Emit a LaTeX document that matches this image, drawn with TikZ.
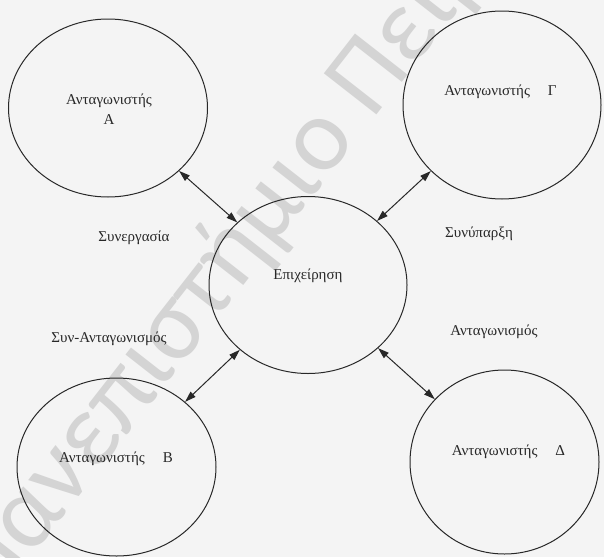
\documentclass[tikz,border=0pt]{standalone}
\usepackage{fontspec}
\setmainfont{Liberation Serif}
\newfontfamily\markfont{Carlito}
\usetikzlibrary{shapes.geometric,arrows.meta}
\definecolor{paper}{RGB}{244,244,244}
\definecolor{ink}{RGB}{40,40,40}
\definecolor{markgray}{RGB}{212,212,212}

\begin{document}
\begin{tikzpicture}[x=1pt,y=-1pt,
  party/.style={draw=ink, line width=1pt, ellipse, inner sep=0pt},
  lbl/.style={text=ink, font=\fontsize{15}{19.5}\selectfont, inner sep=0pt, align=center},
  link/.style={draw=ink, line width=1pt, {Triangle[length=11pt,width=7pt]}-{Triangle[length=11pt,width=7pt]}}]
\fill[paper] (0,0) rectangle (604,557);
\useasboundingbox (0,0) rectangle (604,557);

% faint diagonal watermark behind the diagram
\begin{scope}
  \clip (0,0) rectangle (604,557);
  \node[rotate=52, anchor=base west, inner sep=0pt, text=markgray,
        font=\markfont\fontsize{104}{104}\selectfont] (mark) at (-9,609) {Πανεπιστήμιο Πειραιώς};
\end{scope}

% the firm and its four competitors
\node[party, minimum width=199pt, minimum height=178pt] (A) at (108,108) {};
\node[party, minimum width=198pt, minimum height=188pt] (G) at (502,105) {};
\node[party, minimum width=198pt, minimum height=177pt] (E) at (308,285) {};
\node[party, minimum width=199pt, minimum height=178pt] (B) at (116.5,467) {};
\node[party, minimum width=189pt, minimum height=184pt] (D) at (504.5,462) {};

% names inside the circles
\node[lbl] (A-name) at (109,109) {Ανταγωνιστής\\Α};
\node[lbl] (G-name) at (500.5,92) {Ανταγωνιστής\hspace{1.2em}Γ};
\node[lbl] (E-name) at (308,276) {Επιχείρηση};
\node[lbl] (B-name) at (116,459) {Ανταγωνιστής\hspace{1.2em}Β};
\node[lbl] (D-name) at (508.5,452) {Ανταγωνιστής\hspace{1.2em}Δ};

% kinds of relationship
\node[lbl] (coop) at (134,238) {Συνεργασία};
\node[lbl] (coex) at (479,234) {Συνύπαρξη};
\node[lbl] (coopetition) at (109,339) {Συν-Ανταγωνισμός};
\node[lbl] (competition) at (494,332) {Ανταγωνισμός};

% two-way links between the firm and each competitor
\draw[link] (A) -- (E);
\draw[link] (G) -- (E);
\draw[link] (B) -- (E);
\draw[link] (D) -- (E);
\end{tikzpicture}
\end{document}
